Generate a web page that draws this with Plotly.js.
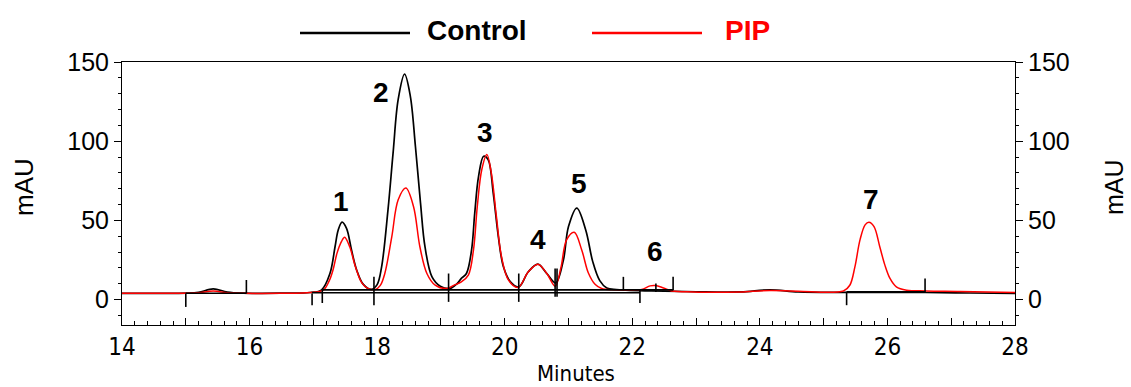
<!DOCTYPE html>
<html>
<head>
<meta charset="utf-8">
<script src="https://cdn.plot.ly/plotly-3.0.1.min.js"></script>
<style>
  html, body { margin: 0; padding: 0; background: #ffffff; }
  #chart { width: 1131px; height: 387px; }
</style>
</head>
<body>
<div id="chart"></div>
<script>
// Chromatogram traces: retention time (min) and absorbance (mAU)
const controlTime = [14.0, 14.5, 15.0, 15.2, 15.43, 15.65, 15.9, 16.5, 16.95, 17.13, 17.26, 17.34, 17.39, 17.45, 17.52, 17.60, 17.68, 17.78, 17.91, 18.0, 18.07, 18.17, 18.25, 18.33, 18.43, 18.52, 18.60, 18.68, 18.75, 18.86, 18.99, 19.14, 19.25, 19.32, 19.40, 19.48, 19.53, 19.59, 19.67, 19.74, 19.82, 19.90, 19.98, 20.09, 20.22, 20.37, 20.52, 20.66, 20.80, 20.92, 21.00, 21.13, 21.27, 21.38, 21.49, 21.60, 21.75, 21.9, 22.2, 22.5, 23.0, 23.7, 24.16, 24.6, 25.3, 26.0, 26.6, 27.3, 28.0];
const controlAbs = [4.0, 4.0, 4.1, 4.6, 6.8, 4.8, 4.1, 4.1, 4.5, 6.2, 16.5, 33.4, 44.0, 48.9, 45.0, 31.0, 18.6, 9.8, 6.5, 9.5, 20.7, 56.7, 92.6, 126.4, 142.3, 128.5, 96.8, 60.9, 33.4, 14.4, 8.5, 7.0, 10.0, 13.4, 16.5, 31.3, 54.6, 77.8, 90.5, 88.4, 67.3, 39.8, 20.7, 11.2, 8.0, 17.6, 22.4, 16.5, 10.6, 25.0, 46.1, 57.8, 44.0, 24.0, 12.0, 7.4, 6.4, 6.0, 5.6, 5.4, 5.0, 4.9, 6.2, 4.9, 4.6, 4.6, 4.5, 4.2, 4.0];

const pipTime = [14.0, 14.5, 15.0, 15.2, 15.43, 15.65, 15.9, 16.5, 16.95, 17.16, 17.25, 17.31, 17.37, 17.44, 17.49, 17.57, 17.66, 17.76, 17.86, 17.97, 18.05, 18.12, 18.23, 18.33, 18.45, 18.57, 18.67, 18.78, 18.91, 19.09, 19.20, 19.32, 19.43, 19.51, 19.57, 19.64, 19.72, 19.79, 19.87, 19.95, 20.06, 20.21, 20.37, 20.52, 20.66, 20.79, 20.88, 20.97, 21.09, 21.21, 21.31, 21.42, 21.52, 21.70, 22.02, 22.15, 22.28, 22.36, 22.49, 22.62, 22.96, 23.4, 23.7, 24.16, 24.6, 25.31, 25.41, 25.49, 25.57, 25.65, 25.71, 25.79, 25.88, 25.96, 26.04, 26.14, 26.30, 26.61, 27.14, 28.0];
const pipAbs = [4.0, 4.0, 4.0, 4.3, 5.4, 4.4, 4.0, 4.0, 4.5, 6.2, 12.0, 19.0, 29.2, 36.6, 39.4, 33.4, 20.7, 10.6, 7.0, 6.4, 9.0, 16.5, 39.8, 63.0, 70.4, 58.8, 33.4, 16.5, 9.1, 7.0, 9.0, 11.2, 15.5, 31.3, 58.8, 82.0, 91.6, 80.0, 52.4, 27.1, 12.3, 7.7, 17.6, 22.4, 16.5, 8.5, 20.0, 37.7, 42.5, 31.0, 17.0, 9.5, 7.0, 6.2, 6.0, 6.4, 8.7, 8.9, 7.4, 5.5, 4.9, 4.7, 4.8, 5.8, 5.3, 5.5, 9.1, 20.7, 37.7, 47.2, 48.9, 46.1, 33.4, 21.8, 13.4, 8.1, 6.0, 5.5, 5.2, 4.5];

// Integration events: drop-line marks and the baselines drawn under the peaks
const markTime = [15.00, 15.95, 16.98, 17.14, 17.95, 19.12, 20.22, 20.79, 20.82, 21.86, 22.12, 22.37, 22.64, 25.36, 26.59];
const markLow  = [-4.6, 3.9, -3.5, -2.1, -3.5, -1.4, -1.4, 1.8, 1.8, 6.0, -2.1, 4.9, 6.0, -3.5, 4.9];
const markHigh = [3.9, 12.4, 3.9, 6.4, 14.4, 16.5, 16.5, 19.7, 19.7, 14.4, 6.4, 10.2, 14.4, 4.9, 13.4];
const baseStart = [15.00, 17.14, 16.98, 25.36];
const baseEnd   = [15.95, 22.64, 22.12, 26.59];
const baseLevel = [4.0, 6.2, 4.4, 5.0];

// Peak numbering
const peakLabels = ["1", "2", "3", "4", "5", "6", "7"];
const peakLabelTime  = [17.43, 18.06, 19.69, 20.52, 21.16, 22.35, 25.74];
const peakLabelLevel = [61.8, 131.0, 105.5, 37.7, 73.2, 30.7, 63.0];

// Axis ticks
const xTickVals = [14, 15, 16, 17, 18, 19, 20, 21, 22, 23, 24, 25, 26, 27, 28];
const xTickText = ["14", "", "16", "", "18", "", "20", "", "22", "", "24", "", "26", "", "28"];
const yTickVals = [0, 50, 100, 150];

const legendNames = ["Control", "PIP"];
const seriesColors = ["#000000", "#ff0000"];

// Build the integration marks as one broken polyline
const eventX = [], eventY = [];
markTime.forEach((t, i) => {
  eventX.push(t, t, null);
  eventY.push(markLow[i], markHigh[i], null);
});
baseStart.forEach((t, i) => {
  eventX.push(t, baseEnd[i], null);
  eventY.push(baseLevel[i], baseLevel[i], null);
});

const traces = [
  {
    x: eventX, y: eventY, type: "scatter", mode: "lines",
    line: { color: "#000000", width: 1.6 },
    hoverinfo: "skip", showlegend: false, yaxis: "y2"
  },
  {
    x: controlTime, y: controlAbs, type: "scatter", mode: "lines", name: legendNames[0],
    line: { color: seriesColors[0], width: 1.7, shape: "spline", smoothing: 1 },
    showlegend: false
  },
  {
    x: pipTime, y: pipAbs, type: "scatter", mode: "lines", name: legendNames[1],
    line: { color: seriesColors[1], width: 1.5, shape: "spline", smoothing: 1 },
    showlegend: false
  }
];

const plotLeft = 122, plotRight = 1015, plotTop = 62, plotBottom = 325;
const px = v => (v - plotLeft) / (plotRight - plotLeft);
const py = v => (plotBottom - v) / (plotBottom - plotTop);

const sansFamily = "Liberation Sans, Arial, sans-serif";
const narrowFamily = "DejaVu Sans Condensed, Liberation Sans Narrow, Arial Narrow, sans-serif";
const tickFont = { family: sansFamily, size: 25, color: "#000000" };
const xTickFont = { family: narrowFamily, size: 24, color: "#000000" };

const yCommon = {
  range: [-16, 150], tickmode: "array", tickvals: yTickVals,
  showline: true, linecolor: "#000000", linewidth: 1,
  ticks: "outside", ticklen: 7, tickwidth: 1, tickcolor: "#000000",
  minor: { dtick: 10, tick0: 0, ticks: "outside", ticklen: 3, tickcolor: "#000000" },
  showgrid: false, zeroline: false, tickfont: tickFont, fixedrange: true
};

const annotations = peakLabels.map((s, i) => ({
  x: peakLabelTime[i], y: peakLabelLevel[i], xref: "x", yref: "y",
  xanchor: "center", yanchor: "middle",
  text: "<b>" + s + "</b>", showarrow: false,
  font: { family: sansFamily, size: 28, color: "#000000" }
}));
annotations.push(
  { x: px(24), y: py(187), xref: "paper", yref: "paper", xanchor: "center", yanchor: "middle",
    text: "mAU", textangle: -90, showarrow: false,
    font: { family: sansFamily, size: 26, color: "#000000" } },
  { x: px(1114), y: py(187), xref: "paper", yref: "paper", xanchor: "center", yanchor: "middle",
    text: "mAU", textangle: -90, showarrow: false,
    font: { family: sansFamily, size: 25, color: "#000000" } },
  { x: px(576), y: py(373), xref: "paper", yref: "paper", xanchor: "center", yanchor: "middle",
    text: "Minutes", showarrow: false,
    font: { family: narrowFamily, size: 22, color: "#000000" } },
  { x: px(425), y: py(31), xref: "paper", yref: "paper", xanchor: "left", yanchor: "middle",
    text: "<b>" + legendNames[0] + "</b>", showarrow: false,
    font: { family: sansFamily, size: 28, color: seriesColors[0] } },
  { x: px(723), y: py(31), xref: "paper", yref: "paper", xanchor: "left", yanchor: "middle",
    text: "<b>" + legendNames[1] + "</b>", showarrow: false,
    font: { family: sansFamily, size: 28, color: seriesColors[1] } }
);

const shapes = [
  { type: "line", xref: "paper", yref: "paper", x0: px(300), x1: px(410), y0: py(33), y1: py(33),
    line: { color: seriesColors[0], width: 2.5 } },
  { type: "line", xref: "paper", yref: "paper", x0: px(592), x1: px(702), y0: py(33), y1: py(33),
    line: { color: seriesColors[1], width: 2.5 } }
];

const layout = {
  width: 1131, height: 387,
  margin: { l: plotLeft, r: 1131 - plotRight, t: plotTop, b: 387 - plotBottom, pad: 0 },
  paper_bgcolor: "#ffffff", plot_bgcolor: "#ffffff",
  showlegend: false,
  xaxis: {
    range: [14, 28], tickmode: "array", tickvals: xTickVals, ticktext: xTickText,
    showline: true, linecolor: "#000000", linewidth: 1, mirror: true,
    ticks: "inside", ticklen: 7, tickwidth: 1, tickcolor: "#000000",
    minor: { dtick: 0.2, tick0: 14, ticks: "inside", ticklen: 4, tickcolor: "#000000" },
    showgrid: false, zeroline: false, tickfont: xTickFont, fixedrange: true
  },
  yaxis: Object.assign({}, yCommon, { side: "left" }),
  yaxis2: Object.assign({}, yCommon, { side: "right", overlaying: "y", anchor: "x" }),
  annotations: annotations,
  shapes: shapes
};

Plotly.newPlot("chart", traces, layout, { staticPlot: true, displayModeBar: false });
</script>
</body>
</html>
